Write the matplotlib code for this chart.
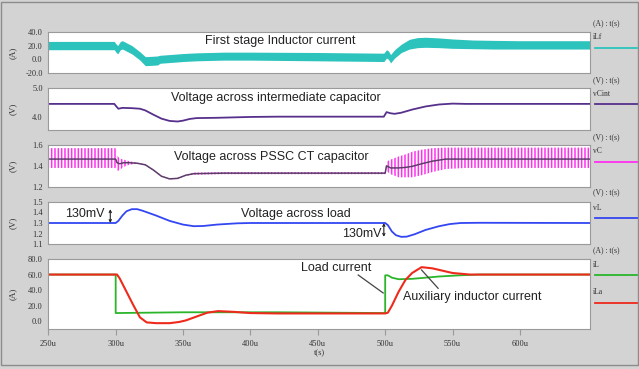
import matplotlib
matplotlib.use("Agg")
import matplotlib.pyplot as plt
from matplotlib.lines import Line2D

# ---- waveform breakpoints (time in us) ----
# first stage inductor current: ripple band lower / upper edge [A]
T_ILF = [250, 299, 300, 301.5, 303.5, 305, 312, 318, 322, 327, 331, 333, 340, 350,
         360, 380, 400, 450, 499, 501, 502.5, 504, 507, 512, 518, 524, 530, 540,
         550, 565, 580, 600, 652]
ILF_LO = [14, 14, 11, 8, 14, 15, 8, -1, -9, -8.5, -8, -5.5, -4.5, -3,
          -2, -1, -1, -2, -3, 2, 0, -5, 2, 10, 15, 17, 17.5, 17,
          16, 15.5, 15, 15, 15]
ILF_HI = [26, 26, 23, 20, 26, 27, 20, 11, 4, 4.5, 5, 6, 7, 8.5,
          9.5, 10.5, 10.5, 10, 9, 14, 12, 7, 14, 22, 29, 31.5, 32, 31,
          29.5, 28, 27.5, 27, 27]

# intermediate capacitor voltage [V]
T_VCINT = [250, 299, 300.5, 302, 305, 312, 318, 322, 328, 334, 340, 346, 350, 355,
           360, 375, 400, 420, 499, 501, 504, 507, 512, 520, 530, 540, 550, 560, 652]
VCINT = [4.45, 4.45, 4.36, 4.28, 4.31, 4.30, 4.28, 4.22, 4.07, 3.93, 3.85, 3.83, 3.86, 3.92,
         3.95, 3.96, 3.99, 4.00, 4.00, 4.16, 4.12, 4.10, 4.14, 4.25, 4.36, 4.43, 4.46, 4.45, 4.45]

# PSSC CT capacitor voltage: average and ripple extremes [V]
T_VC = [250, 300, 301, 303, 306, 310, 316, 322, 328, 334, 340, 346, 352, 358, 380,
        420, 500, 501, 504, 510, 515, 520, 527, 535, 545, 560, 652]
VC_MID = [1.465, 1.465, 1.43, 1.42, 1.43, 1.43, 1.425, 1.41, 1.36, 1.30, 1.275, 1.28,
          1.31, 1.325, 1.33, 1.33, 1.33, 1.40, 1.38, 1.38, 1.385, 1.395, 1.42, 1.445,
          1.465, 1.465, 1.465]
VC_HI = [1.57, 1.57, 1.50, 1.47, 1.46, 1.445, 1.43, 1.415, 1.365, 1.305, 1.28, 1.285,
         1.315, 1.335, 1.34, 1.34, 1.34, 1.44, 1.46, 1.49, 1.51, 1.535, 1.555, 1.57,
         1.575, 1.575, 1.575]
VC_LO = [1.38, 1.38, 1.35, 1.36, 1.39, 1.41, 1.42, 1.405, 1.355, 1.295, 1.27, 1.275,
         1.305, 1.315, 1.32, 1.32, 1.32, 1.35, 1.32, 1.29, 1.29, 1.29, 1.31, 1.34,
         1.37, 1.38, 1.38]

# load voltage [V]
T_VL = [250, 300, 302, 305, 308, 312, 316, 320, 330, 340, 350, 358, 365, 375, 390,
        400, 500, 502, 505, 508, 512, 516, 522, 530, 540, 548, 556, 570, 652]
VL = [1.30, 1.30, 1.32, 1.37, 1.41, 1.43, 1.43, 1.415, 1.37, 1.32, 1.285, 1.27, 1.272,
      1.285, 1.297, 1.30, 1.30, 1.28, 1.22, 1.185, 1.17, 1.172, 1.195, 1.235, 1.27,
      1.29, 1.30, 1.302, 1.30]

# load current and auxiliary inductor current [A]
T_IL = [250, 300, 300.01, 350, 420, 500, 500.01, 502, 505, 510, 520, 530, 540, 555, 570, 652]
IL = [60, 60, 10.5, 11.5, 11.5, 10.5, 59, 59, 56, 54, 54.5, 56, 57.5, 59, 60, 60]
T_ILA = [250, 301, 303, 308, 313, 318, 323, 330, 340, 347, 352, 360, 368, 376, 388,
         400, 420, 500, 502, 505, 510, 515, 520, 527, 535, 540, 550, 563, 652]
ILA = [60, 60, 55, 38, 21, 5, -1.5, -2.5, -2.5, -1, 1, 6, 11, 13, 12,
       10.5, 10, 10, 11, 20, 38, 53, 62, 69.5, 68, 66, 62, 60, 60]

XTICKS = [250, 300, 350, 400, 450, 500, 550, 600]
XTICK_LABELS = ["250u", "300u", "350u", "400u", "450u", "500u", "550u", "600u"]

TEAL, PURPLE, MAGENTA, DARK = "#2cc3bd", "#57308c", "#ff30f0", "#5b3d68"
BLUE, GREEN, RED = "#3346f2", "#2bb52b", "#ee2a1c"
BG = "#d3d3d3"
SERIF = "Liberation Serif"
SANS = "Liberation Sans"

plt.rcParams["hatch.linewidth"] = 1.1
plt.rcParams["hatch.color"] = MAGENTA

W, H = 639, 369
fig = plt.figure(figsize=(W / 100, H / 100), dpi=100, facecolor=BG)
fig.patches.append(plt.Rectangle((0.002, 0.012), 0.996, 0.982, transform=fig.transFigure,
                                 fill=False, edgecolor="#8c8c8c", lw=1.0))

LEFT, RIGHT = 48.3, 590.0


def panel(top, bottom, ylim, yticks, fmt, unit):
    ax = fig.add_axes([LEFT / W, 1 - bottom / H, (RIGHT - LEFT) / W, (bottom - top) / H])
    ax.set_facecolor("white")
    ax.set_xlim(250, 652)
    ax.set_ylim(*ylim)
    ax.set_yticks(yticks)
    ax.set_yticklabels([fmt.format(v) for v in yticks], family=SERIF, fontsize=6, color="#333333")
    ax.tick_params(axis="y", length=0, pad=4)
    ax.set_xticks(XTICKS)
    ax.tick_params(axis="x", length=0, labelbottom=False)
    for s in ax.spines.values():
        s.set_color("#9a9a9a")
        s.set_linewidth(0.8)
    ax.set_ylabel(unit, family=SERIF, fontsize=6.5, color="#333333", labelpad=6)
    ax.yaxis.set_label_coords(-0.058, 0.5)
    return ax


def legend_entry(unit, name, y_unit, y_name, y_line, color):
    fig.text(593 / W, 1 - y_unit / H, unit + " : t(s)", family=SERIF, fontsize=5.5,
             color="#333333", va="center")
    fig.text(593 / W, 1 - y_name / H, name, family=SERIF, fontsize=5.5,
             color="#333333", va="center")
    fig.add_artist(Line2D([595 / W, 637 / W], [1 - y_line / H] * 2, color=color, lw=1.3))


def label(ax, x, y, s):
    ax.text(x, y, s, transform=ax.get_xaxis_transform(), family=SANS, fontsize=9,
            color="#222222", ha="center", va="center")


# first stage inductor current
ax1 = panel(31.7, 73.3, (-20, 40), [40, 20, 0, -20], "{:.1f}", "(A)")
ax1.fill_between(T_ILF, ILF_LO, ILF_HI, color=TEAL, lw=0)
label(ax1, 422, 0.78, "First stage Inductor current")
legend_entry("(A)", "iLf", 22.7, 37.3, 47.7, TEAL)

# intermediate capacitor
ax2 = panel(88.3, 130.0, (3.53, 5.0), [5.0, 4.0], "{:.1f}", "(V)")
ax2.plot(T_VCINT, VCINT, color=PURPLE, lw=1.3)
label(ax2, 419, 0.77, "Voltage across intermediate capacitor")
legend_entry("(V)", "vCint", 80.0, 94.3, 104.3, PURPLE)

# PSSC CT capacitor
ax3 = panel(145.0, 186.7, (1.2, 1.6), [1.6, 1.4, 1.2], "{:.1f}", "(V)")
ax3.fill_between(T_VC, VC_LO, VC_HI, facecolor="none", edgecolor=MAGENTA,
                 hatch="|||||", lw=0)
ax3.plot(T_VC, VC_MID, color=DARK, lw=1.1)
label(ax3, 415.6, 0.71, "Voltage across PSSC CT capacitor")
legend_entry("(V)", "vC", 136.7, 150.7, 161.7, MAGENTA)

# load voltage
ax4 = panel(201.7, 244.3, (1.1, 1.5), [1.5, 1.4, 1.3, 1.2, 1.1], "{:.1f}", "(V)")
ax4.plot(T_VL, VL, color=BLUE, lw=1.3)
label(ax4, 434, 0.71, "Voltage across load")
ax4.text(277, 1.385, "130mV", family=SANS, fontsize=9, color="#222222",
         ha="center", va="center")
ax4.annotate("", xy=(296, 1.43), xytext=(296, 1.30),
             arrowprops=dict(arrowstyle="<->", color="#222222", lw=0.8,
                             mutation_scale=4, shrinkA=0, shrinkB=0))
ax4.text(483, 1.197, "130mV", family=SANS, fontsize=9, color="#222222",
         ha="center", va="center")
ax4.annotate("", xy=(499, 1.17), xytext=(499, 1.30),
             arrowprops=dict(arrowstyle="<->", color="#222222", lw=0.8,
                             mutation_scale=4, shrinkA=0, shrinkB=0))
legend_entry("(V)", "vL", 192.3, 207.7, 218.3, BLUE)

# load and auxiliary inductor currents
ax5 = panel(259.0, 329.0, (-10, 80), [80, 60, 40, 20, 0], "{:.1f}", "(A)")
ax5.plot(T_IL, IL, color=GREEN, lw=1.3)
ax5.plot(T_ILA, ILA, color=RED, lw=1.5)
label(ax5, 463.4, 0.87, "Load current")
label(ax5, 564.3, 0.457, "Auxiliary inductor current")
ax5.plot([480, 498.5], [59.4, 36.3], color="#444444", lw=0.9)
ax5.plot([527, 539.3], [65.9, 42.3], color="#444444", lw=0.9)
ax5.tick_params(axis="x", length=4, direction="out", color="#9a9a9a", labelbottom=True,
                labelsize=6, labelcolor="#333333", pad=4)
ax5.set_xticklabels(XTICK_LABELS, family=SERIF)
ax5.set_xlabel("t(s)", family=SERIF, fontsize=6, color="#333333", labelpad=1)
legend_entry("(A)", "iL", 250.0, 265.0, 275.0, GREEN)
fig.text(593 / W, 1 - 292.3 / H, "iLa", family=SERIF, fontsize=5.5, color="#333333",
         va="center")
fig.add_artist(Line2D([595 / W, 637 / W], [1 - 302.7 / H] * 2, color=RED, lw=1.3))

fig.savefig("out.png", dpi=100, facecolor=BG)
